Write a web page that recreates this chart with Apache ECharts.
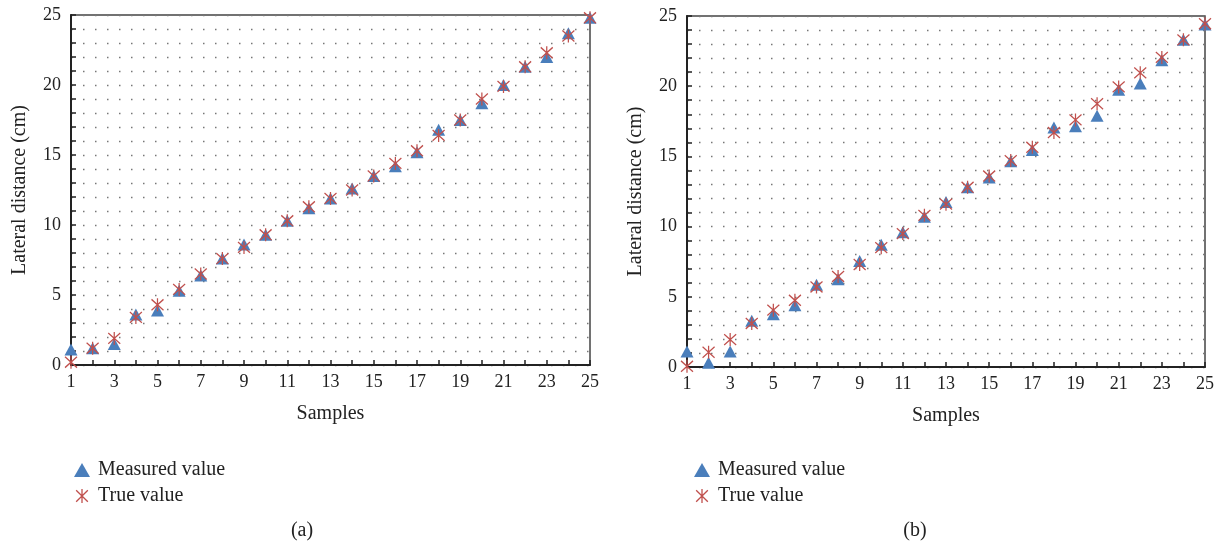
<!DOCTYPE html>
<html><head><meta charset="utf-8">
<script src="https://cdn.jsdelivr.net/npm/echarts@6/dist/echarts.min.js"></script>
<style>html,body{margin:0;padding:0;background:#fff}#c{width:1222px;height:550px}</style>
</head><body><div id="c"></div>
<script>
const samples = ['1','2','3','4','5','6','7','8','9','10','11','12','13','14','15','16','17','18','19','20','21','22','23','24','25'];
const measuredA = [1.1,1.2,1.5,3.6,3.9,5.3,6.4,7.6,8.6,9.3,10.3,11.2,11.9,12.6,13.5,14.2,15.2,16.8,17.5,18.7,20.0,21.3,22.0,23.7,24.8];
const trueA     = [0.2,1.2,1.9,3.4,4.3,5.4,6.5,7.6,8.4,9.3,10.3,11.3,11.9,12.5,13.5,14.4,15.3,16.4,17.5,19.0,19.9,21.3,22.3,23.5,24.8];
const measuredB = [1.1,0.3,1.1,3.3,3.75,4.4,5.85,6.25,7.55,8.7,9.6,10.7,11.75,12.8,13.5,14.65,15.45,17.05,17.15,17.9,19.75,20.2,21.85,23.3,24.4];
const trueB     = [0.05,1.05,1.95,3.1,4.05,4.75,5.7,6.45,7.3,8.5,9.5,10.8,11.6,12.8,13.6,14.7,15.65,16.7,17.6,18.75,19.95,20.95,22.05,23.3,24.45];
const panelLabels = ['(a)','(b)'];
const seriesNames = ['Measured value','True value'];

const FONT = 'Liberation Serif';
const BLUE = '#4a7ebb';
const RED = '#c0504d';
const STAR = 'path://M0,1L10,11M10,1L0,11M5,0L5,12';
const dotted = {type:[1.5,10.5], color:'#777', width:1.4};

function xAxis(gi){
  return {
    type:'category', gridIndex:gi, data:samples, boundaryGap:false,
    name:'Samples', nameLocation:'middle', nameGap:39,
    nameTextStyle:{fontFamily:FONT, fontSize:20, color:'#222'},
    axisLine:{lineStyle:{color:'#222', width:2}},
    axisTick:{inside:true, length:5, interval:0, lineStyle:{color:'#222', width:1.5}},
    axisLabel:{interval:1, margin:8, fontFamily:FONT, fontSize:18, color:'#222'},
    splitLine:{show:false}
  };
}
function yAxis(gi){
  return {
    type:'value', gridIndex:gi, min:0, max:25, interval:5,
    name:'Lateral distance (cm)', nameLocation:'middle', nameGap:41,
    nameTextStyle:{fontFamily:FONT, fontSize:20, color:'#222'},
    axisLine:{show:true, lineStyle:{color:'#222', width:2}},
    axisTick:{show:true, inside:true, length:5, lineStyle:{color:'#222', width:1.5}},
    minorTick:{show:true, splitNumber:5, length:5, lineStyle:{color:'#222', width:1.5}},
    axisLabel:{margin:10, fontFamily:FONT, fontSize:18, color:'#222'},
    splitLine:{show:true, lineStyle:dotted},
    minorSplitLine:{show:true, lineStyle:dotted}
  };
}
function series(gi, m, t){
  return [
    {name:seriesNames[0], type:'scatter', xAxisIndex:gi, yAxisIndex:gi, data:m,
     symbol:'triangle', symbolSize:[13,12], itemStyle:{color:BLUE, opacity:1}, clip:false, z:3},
    {name:seriesNames[1], type:'scatter', xAxisIndex:gi, yAxisIndex:gi, data:t,
     symbol:STAR, symbolSize:[12,13], itemStyle:{color:'rgba(0,0,0,0)', borderColor:RED, borderWidth:1.3, opacity:1}, clip:false, z:4}
  ];
}
function legend(left){
  return {
    orient:'vertical', left:left, top:455, itemWidth:16, itemHeight:14, itemGap:6,
    textStyle:{fontFamily:FONT, fontSize:20, color:'#222', lineHeight:20, padding:[0,0,0,3]},
    data:[
      {name:seriesNames[0], icon:'triangle', itemStyle:{color:BLUE, borderWidth:0}},
      {name:seriesNames[1], icon:STAR, itemStyle:{color:'rgba(0,0,0,0)', borderColor:RED, borderWidth:1.3}}
    ]
  };
}
const chart = echarts.init(document.getElementById('c'));
chart.setOption({
  animation:false,
  backgroundColor:'#fff',
  grid:[
    {left:71, top:15, width:519, height:350, show:true, borderColor:'#444', borderWidth:1.5},
    {left:687, top:16, width:518, height:351, show:true, borderColor:'#444', borderWidth:1.5}
  ],
  xAxis:[xAxis(0), xAxis(1)],
  yAxis:[yAxis(0), yAxis(1)],
  legend:[legend(69), legend(689)],
  series:[...series(0, measuredA, trueA), ...series(1, measuredB, trueB)],
  graphic:[
    {type:'text', x:302, y:531, style:{text:panelLabels[0], font:'20px "Liberation Serif"', fill:'#222', align:'center', verticalAlign:'middle'}},
    {type:'text', x:915, y:531, style:{text:panelLabels[1], font:'20px "Liberation Serif"', fill:'#222', align:'center', verticalAlign:'middle'}}
  ]
});
</script></body></html>
